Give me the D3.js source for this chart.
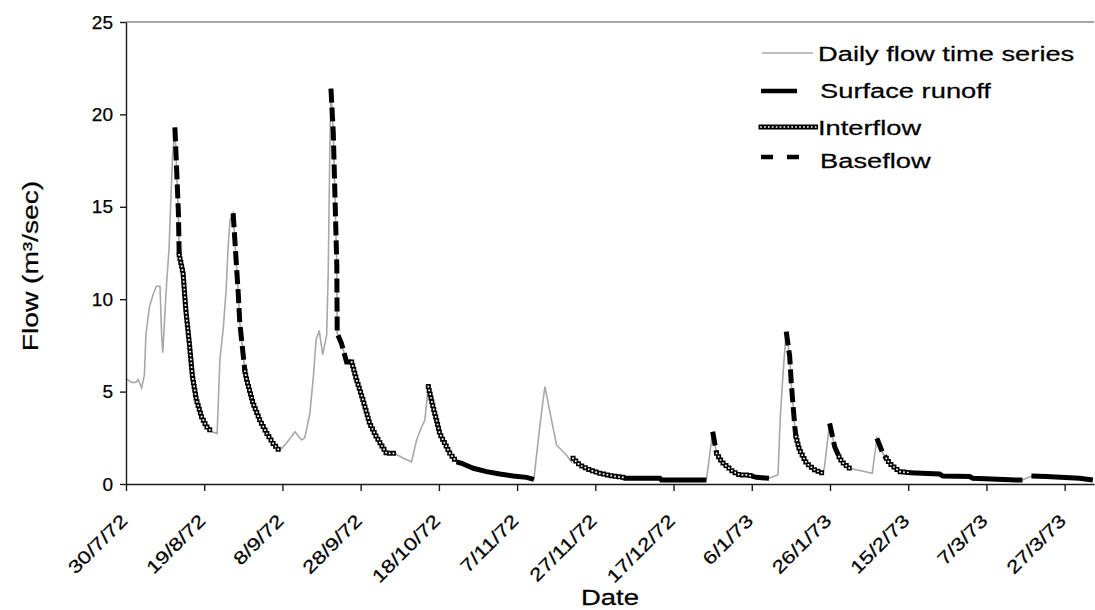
<!DOCTYPE html>
<html>
<head>
<meta charset="utf-8">
<script src="https://cdn.jsdelivr.net/npm/d3@7"></script>
<style>
  body { margin: 0; background: #fff; }
  text { font-family: "Liberation Sans", Arial, sans-serif; fill: #000; stroke: #000; stroke-width: 0.25px; }
</style>
</head>
<body>
<div id="chart"></div>
<script>
// x tick labels, one every 20 days from 30/7/72
var tickLabels = ["30/7/72", "19/8/72", "8/9/72", "28/9/72", "18/10/72", "7/11/72", "27/11/72",
                  "17/12/72", "6/1/73", "26/1/73", "15/2/73", "7/3/73", "27/3/73"];
var yTicks = [0, 5, 10, 15, 20, 25];

// [days since 30/7/72, flow m3/sec]
var dailyFlow = [[0,5.7],[1.5,5.5],[2.5,5.5],[3.1,5.65],[4,5.2],[4.7,5.9],[5.1,8.1],[6,9.6],[7,10.3],[7.8,10.7],
  [8.7,10.7],[9.1,8.1],[9.4,7.1],[10,9.4],[10.4,10.9],[11,12.7],[11.4,15],[11.9,17.7],[12.5,19.3],[13.4,14.7],
  [13.6,12.4],[14.6,11.4],[15.3,9.4],[16.2,7.6],[17,5.8],[18,4.55],[19.3,3.65],[20.6,3.1],[21.9,2.83],[23.3,2.74],
  [24,6.7],[24.9,8.5],[25.6,10.5],[26.1,12.8],[26.6,14.3],[27.4,14.65],[28.7,10.3],[29.1,8.7],[30.4,6.1],[30.9,5.6],
  [32.5,4.36],[34.2,3.46],[36,2.74],[37.6,2.2],[39.2,1.8],[41,2.2],[43.2,2.83],[44.9,2.38],[45.7,2.5],[47,3.8],
  [47.9,5.8],[48.6,7.8],[49.4,8.3],[50.3,7.0],[51.3,8.06],[51.7,11.4],[52.1,17.9],[52.4,21.4],[53,19],[53.5,15],
  [53.9,11.8],[54,8.15],[55.1,7.6],[56.4,6.6],[57.7,6.6],[59,5.6],[60.6,4.55],[62.3,3.28],[64,2.56],[65.8,1.93],
  [66.6,1.66],[68.7,1.66],[70.9,1.39],[73,1.2],[74.3,2.38],[75.6,3.1],[76.4,3.46],[77.3,5.27],[78.5,4.18],[79.4,3.46],
  [80.2,2.74],[81.5,2.2],[82.8,1.66],[84.5,1.2],[85.8,1.12],[88.8,0.85],[92.2,0.67],[95.6,0.54],[99,0.43],[102.4,0.36],
  [104.3,0.25],[104.5,0.67],[105.8,3.1],[106.6,4.45],[107.1,5.27],[108.8,3.46],[110.1,2.1],[112.6,1.57],[113.9,1.2],[114.3,1.39],
  [116,1.03],[118.6,0.76],[121.1,0.58],[124.5,0.43],[127.1,0.36],[127.5,0.31],[136.5,0.31],[136.9,0.22],[148.4,0.22],[150,2.83],
  [151,1.66],[152.3,1.2],[155.2,0.67],[156.9,0.49],[159,0.49],[160,0.43],[161.2,0.36],[164.4,0.31],[166.7,0.49],[167.3,3.65],
  [168,6.0],[168.8,8.25],[169.7,6.9],[170.1,5.45],[171,3.1],[171.3,2.56],[172.2,1.84],[174,1.12],[176.1,0.76],[178.2,0.58],
  [178.6,0.94],[179.9,3.28],[181.2,2.02],[182.3,1.48],[183,1.2],[185,0.85],[190.8,0.58],[192,2.47],[193.5,1.66],[194.4,1.39],
  [195.2,1.12],[197.8,0.67],[200.4,0.61],[208,0.54],[208.9,0.43],[215.7,0.4],[216.5,0.31],[227.6,0.22],[229.2,0.22],[231.5,0.43],
  [235.3,0.4],[243.8,0.31],[247.2,0.22]];

var surfaceRunoff = [
  [[84.5,1.2],[85.8,1.12],[88.8,0.85],[92.2,0.67],[95.6,0.54],[99,0.43],[102.4,0.36],[104.3,0.25]],
  [[127.1,0.36],[127.5,0.31],[136.5,0.31],[136.9,0.22],[148.4,0.22]],
  [[160,0.43],[161.2,0.36],[164.4,0.31]],
  [[200.4,0.61],[208,0.54],[208.9,0.43],[215.7,0.4],[216.5,0.31],[227.6,0.22],[229.2,0.22]],
  [[231.5,0.43],[235.3,0.4],[243.8,0.31],[247.2,0.22]]
];

var interflow = [
  [[13.6,12.4],[14.6,11.4],[15.3,9.4],[16.2,7.6],[17,5.8],[18,4.55],[19.3,3.65],[20.6,3.1],[21.9,2.83]],
  [[30.4,6.1],[30.9,5.6],[32.5,4.36],[34.2,3.46],[36,2.74],[37.6,2.2],[39.2,1.8]],
  [[57.7,6.6],[59,5.6],[60.6,4.55],[62.3,3.28],[64,2.56],[65.8,1.93],[66.6,1.66],[68.7,1.66]],
  [[77.3,5.27],[78.5,4.18],[79.4,3.46],[80.2,2.74],[81.5,2.2],[82.8,1.66],[84.5,1.2]],
  [[114.3,1.39],[116,1.03],[118.6,0.76],[121.1,0.58],[124.5,0.43],[127.1,0.36]],
  [[151,1.66],[152.3,1.2],[155.2,0.67],[156.9,0.49],[159,0.49],[160,0.43]],
  [[171.3,2.56],[172.2,1.84],[174,1.12],[176.1,0.76],[178.2,0.58]],
  [[182.3,1.48],[183,1.2],[185,0.85]],
  [[194.4,1.39],[195.2,1.12],[197.8,0.67],[200.4,0.61]]
];

var baseflow = [
  [[12.5,19.3],[13.4,14.7],[13.6,12.4]],
  [[27.4,14.65],[28.7,10.3],[29.1,8.7],[30.4,6.1]],
  [[52.4,21.4],[53,19],[53.5,15],[53.9,11.8],[54,8.15],[55.1,7.6],[56.4,6.6],[57.7,6.6]],
  [[150,2.83],[151,1.66]],
  [[168.8,8.25],[169.7,6.9],[170.1,5.45],[171,3.1],[171.3,2.56]],
  [[179.9,3.28],[181.2,2.02],[182.3,1.48]],
  [[192,2.47],[193.5,1.66],[194.4,1.39]]
];

var width = 1095, height = 610;

var svg = d3.select("#chart")
    .append("svg")
    .attr("width", width)
    .attr("height", height);

var x = d3.scaleLinear().domain([0, 247.5]).range([126, 1094]);
var y = d3.scaleLinear().domain([0, 25]).range([484, 22]);

var line = d3.line()
    .x(function (d) { return x(d[0]); })
    .y(function (d) { return y(d[1]); });

// top border of the plot area
svg.append("line")
    .attr("x1", x(0)).attr("x2", x(247.5))
    .attr("y1", y(25)).attr("y2", y(25))
    .style("stroke", "#888").style("stroke-width", 1.5);

// daily flow, thin grey
svg.append("path")
    .datum(dailyFlow)
    .attr("d", line)
    .style("fill", "none")
    .style("stroke", "#a8a8a8")
    .style("stroke-width", 1.6);

// surface runoff, thick solid
svg.append("g").selectAll("path")
    .data(surfaceRunoff)
    .enter().append("path")
    .attr("d", line)
    .style("fill", "none")
    .style("stroke", "#000")
    .style("stroke-width", 5);

// baseflow, thick dashed
svg.append("g").selectAll("path")
    .data(baseflow)
    .enter().append("path")
    .attr("d", line)
    .style("fill", "none")
    .style("stroke", "#000")
    .style("stroke-width", 5)
    .style("stroke-dasharray", "14,5");

// interflow, chain of small open markers
function ringLine(sel) {
    sel.append("path")
        .attr("d", function (d) { return d.path; })
        .style("fill", "none").style("stroke", "#000")
        .style("stroke-width", 5).style("stroke-linecap", "square")
        .style("stroke-dasharray", "0,3.9");
    sel.append("path")
        .attr("d", function (d) { return d.path; })
        .style("fill", "none").style("stroke", "#fff")
        .style("stroke-width", 1.7).style("stroke-linecap", "square")
        .style("stroke-dasharray", "0,3.9");
}
svg.append("g").selectAll("g")
    .data(interflow.map(function (s) { return { path: line(s) }; }))
    .enter().append("g")
    .call(ringLine);

// axes
var xAxis = svg.append("g")
    .attr("transform", "translate(0," + y(0) + ")")
    .call(d3.axisBottom(x)
        .tickValues(d3.range(0, 241, 20))
        .tickFormat(function (d, i) { return tickLabels[i]; })
        .tickSize(7)
        .tickSizeOuter(0));
xAxis.selectAll("text")
    .attr("x", 0).attr("y", 0).attr("dy", 0)
    .attr("transform", "translate(2,38) rotate(-45) scale(1.25,1)")
    .style("text-anchor", "end")
    .style("font-size", "18px")
    .style("font-family", "'Liberation Sans', Arial, sans-serif");

var yAxis = svg.append("g")
    .attr("transform", "translate(" + x(0) + ",0)")
    .call(d3.axisLeft(y)
        .tickValues(yTicks)
        .tickSize(6)
        .tickPadding(7)
        .tickSizeOuter(0));
yAxis.selectAll("text")
    .style("font-size", "19px")
    .style("font-family", "'Liberation Sans', Arial, sans-serif");

svg.selectAll(".domain, .tick line")
    .style("stroke", "#1a1a1a")
    .style("stroke-width", 1.4);

// axis titles
svg.append("text")
    .attr("transform", "translate(610,605) scale(1.25,1)")
    .attr("text-anchor", "middle")
    .style("font-size", "22px")
    .text("Date");

svg.append("text")
    .attr("transform", "translate(38,266) rotate(-90) scale(1.28,1)")
    .attr("text-anchor", "middle")
    .style("font-size", "22px")
    .text("Flow (m³/sec)");

// legend
var legend = svg.append("g");
var legendItems = [
    { label: "Daily flow time series", x1: 762, x2: 813, ly: 53, tx: 818, ty: 61 },
    { label: "Surface runoff", x1: 761, x2: 797, ly: 91, tx: 820, ty: 98 },
    { label: "Interflow", x1: 761, x2: 817, ly: 127, tx: 818, ty: 135 },
    { label: "Baseflow", x1: 761, x2: 800, ly: 157, tx: 820, ty: 168 }
];

legend.append("line")
    .attr("x1", legendItems[0].x1).attr("x2", legendItems[0].x2)
    .attr("y1", legendItems[0].ly).attr("y2", legendItems[0].ly)
    .style("stroke", "#a8a8a8").style("stroke-width", 1.6);
legend.append("line")
    .attr("x1", legendItems[1].x1).attr("x2", legendItems[1].x2)
    .attr("y1", legendItems[1].ly).attr("y2", legendItems[1].ly)
    .style("stroke", "#000").style("stroke-width", 4.5);
legend.append("g")
    .datum({ path: "M" + legendItems[2].x1 + "," + legendItems[2].ly + "H" + legendItems[2].x2 })
    .call(ringLine);
legend.append("line")
    .attr("x1", legendItems[3].x1).attr("x2", legendItems[3].x2)
    .attr("y1", legendItems[3].ly).attr("y2", legendItems[3].ly)
    .style("stroke", "#000").style("stroke-width", 4.5)
    .style("stroke-dasharray", "12,14");

legend.selectAll("text")
    .data(legendItems)
    .enter().append("text")
    .attr("transform", function (d) { return "translate(" + d.tx + "," + d.ty + ") scale(1.3,1)"; })
    .style("font-size", "21px")
    .text(function (d) { return d.label; });
</script>
</body>
</html>
